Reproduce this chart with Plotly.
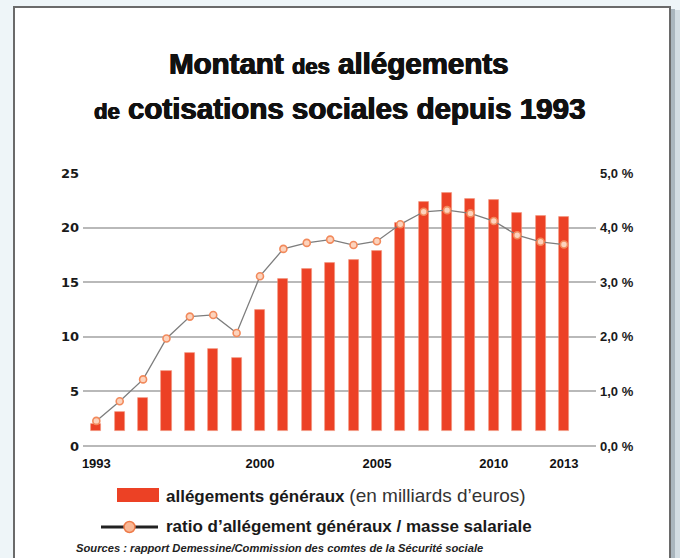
import plotly.graph_objects as go

# ---- data ----
years = list(range(1993, 2014))
allegements = [2.0, 3.1, 4.4, 6.9, 8.5, 8.9, 8.1, 12.5, 15.25, 16.2, 16.8,
               17.0, 17.9, 20.4, 22.3, 23.2, 22.6, 22.5, 21.35, 21.1, 21.0]
ratio = [0.46, 0.82, 1.22, 1.97, 2.37, 2.40, 2.07, 3.11, 3.61, 3.72, 3.78,
         3.68, 3.75, 4.06, 4.29, 4.32, 4.26, 4.12, 3.86, 3.74, 3.69]
x_tickvals = [1993, 2000, 2005, 2010, 2013]
x_ticktext = ["1993", "2000", "2005", "2010", "2013"]
y_tickvals = [0, 5, 10, 15, 20, 25]
y2_tickvals = [0, 1, 2, 3, 4, 5]
y2_ticktext = ["0,0 %", "1,0 %", "2,0 %", "3,0 %", "4,0 %", "5,0 %"]

# ---- geometry ----
W, H = 680, 558
ML, MR, MT, MB = 83, 84, 173, 112
PW, PH = W - ML - MR, H - MT - MB
BAR_BASE = 1.35
BAR_COLOR = "#ec4125"
SANS = "Liberation Sans, Arial, sans-serif"
HEAVY = "0.7px 0 0 #111111, -0.5px 0 0 #111111, 0 0.4px 0 #111111"


def px(x):
    return (x - ML) / PW


def py(y):
    return (H - MB - y) / PH


fig = go.Figure()

fig.add_trace(go.Bar(
    x=years,
    y=[v - BAR_BASE for v in allegements],
    base=BAR_BASE,
    width=0.43,
    marker=dict(color=BAR_COLOR, line=dict(color="rgba(240,150,125,0.7)", width=0.8)),
    yaxis="y",
    showlegend=False,
    hoverinfo="skip",
))

fig.add_trace(go.Scatter(
    x=years,
    y=ratio,
    yaxis="y2",
    mode="lines+markers",
    line=dict(color="#7d7d7d", width=1.3),
    marker=dict(size=7, color="#fcd3bd", line=dict(color="#f28a5c", width=1.6)),
    cliponaxis=False,
    showlegend=False,
    hoverinfo="skip",
))

shapes = [
    # white panel with border
    dict(type="rect", xref="paper", yref="paper",
         x0=px(14), x1=px(670), y0=py(575), y1=py(7),
         fillcolor="white", line=dict(color="#6a6a6a", width=2), layer="below"),
    # right shadow
    dict(type="rect", xref="paper", yref="paper",
         x0=px(671), x1=px(675), y0=py(575), y1=py(9),
         fillcolor="#aab6be", line=dict(width=0), layer="below"),
    dict(type="rect", xref="paper", yref="paper",
         x0=px(675), x1=px(681), y0=py(575), y1=py(10),
         fillcolor="#d3dde3", line=dict(width=0), layer="below"),
    # legend: bar swatch
    dict(type="rect", xref="paper", yref="paper",
         x0=px(117), x1=px(159), y0=py(502), y1=py(488),
         fillcolor=BAR_COLOR, line=dict(width=0)),
    # legend: line sample
    dict(type="line", xref="paper", yref="paper",
         x0=px(101), x1=px(158), y0=py(527), y1=py(527),
         line=dict(color="#222222", width=3)),
    dict(type="circle", xref="paper", yref="paper",
         x0=px(124), x1=px(135), y0=py(532.5), y1=py(521.5),
         fillcolor="#f9b896", line=dict(color="#ee7b4a", width=1.5)),
]

annotations = [
    dict(xref="paper", yref="paper", x=px(339), y=py(63), xanchor="center", yanchor="middle",
         showarrow=False,
         text="<b>Montant <span style='font-size:22px'>des</span> allégements</b>",
         font=dict(family=SANS, size=29.5, color="#111111", shadow=HEAVY)),
    dict(xref="paper", yref="paper", x=px(339), y=py(109), xanchor="center", yanchor="middle",
         showarrow=False,
         text="<b><span style='font-size:22px'>de</span> cotisations sociales depuis 1993</b>",
         font=dict(family=SANS, size=29.5, color="#111111", shadow=HEAVY)),
    dict(xref="paper", yref="paper", x=px(164), y=py(495), xanchor="left", yanchor="middle",
         showarrow=False,
         text="<b>allégements généraux</b> <span style='font-size:19px;color:#333333'>(en milliards d’euros)</span>",
         font=dict(family=SANS, size=17, color="#1a1a1a")),
    dict(xref="paper", yref="paper", x=px(164), y=py(526), xanchor="left", yanchor="middle",
         showarrow=False,
         text="<b>ratio d’allégement généraux / masse salariale</b>",
         font=dict(family=SANS, size=17, color="#1a1a1a")),
    dict(xref="paper", yref="paper", x=px(74), y=py(548), xanchor="left", yanchor="middle",
         showarrow=False,
         text="<b><i>Sources : rapport Demessine/Commission des comtes de la Sécurité sociale</i></b>",
         font=dict(family=SANS, size=11.2, color="#222222")),
]

fig.update_layout(
    width=W, height=H,
    margin=dict(l=ML, r=MR, t=MT, b=MB, autoexpand=False),
    paper_bgcolor="#eef5f8",
    plot_bgcolor="rgba(0,0,0,0)",
    bargap=0,
    shapes=shapes,
    annotations=annotations,
    xaxis=dict(range=[1992.43, 2014.37], tickvals=x_tickvals, ticktext=x_ticktext,
               showgrid=False, zeroline=False, showline=False,
               ticks="outside", ticklen=5, tickcolor="rgba(0,0,0,0)",
               tickfont=dict(family=SANS, size=13, color="#111111", weight="bold")),
    yaxis=dict(range=[0, 25], tickvals=y_tickvals, showgrid=True,
               gridcolor="#b9b9b9", gridwidth=1.5,
               zeroline=True, zerolinecolor="#b9b9b9", zerolinewidth=1.5,
               showline=False, ticks="", ticklabelstandoff=3,
               tickfont=dict(family="DejaVu Sans", size=13, color="#1a1a1a", weight="bold")),
    yaxis2=dict(range=[0, 5], overlaying="y", side="right",
                tickvals=y2_tickvals, ticktext=y2_ticktext,
                showgrid=False, zeroline=False, showline=False, ticks="",
                ticklabelstandoff=3,
                tickfont=dict(family=SANS, size=13, color="#1a1a1a", weight="bold")),
)

fig.write_html("out.html", config={"displayModeBar": False},
               post_script="document.body.style.margin='0';")
